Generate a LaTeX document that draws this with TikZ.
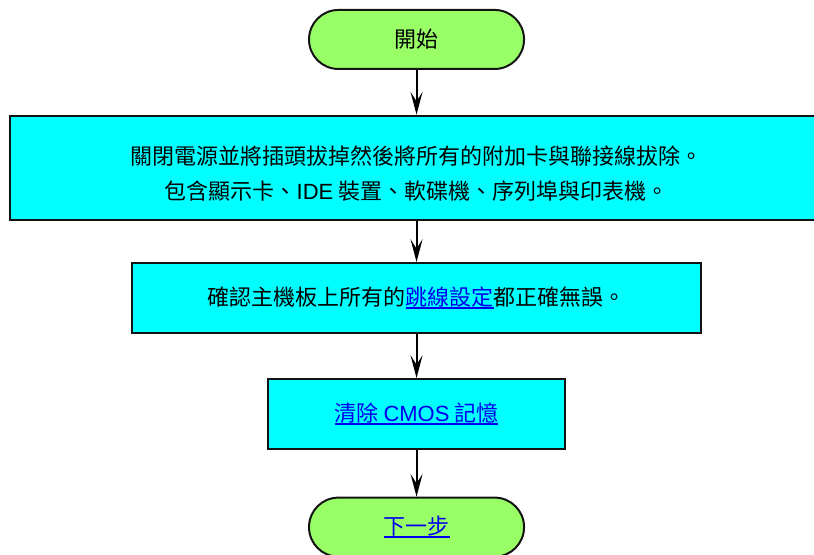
\documentclass[tikz,border=0pt]{standalone}
\usepackage{fontspec}
\setmainfont{Noto Sans CJK TC}
\newfontfamily\latinfont{Liberation Sans}
\usepackage{xcolor}
\usepackage{tikz}
\usetikzlibrary{arrows.meta, positioning}
\definecolor{termgreen}{RGB}{153, 255, 102}
\definecolor{stepcyan}{RGB}{0, 255, 255}
\definecolor{linkblue}{RGB}{0, 0, 238}
\definecolor{edgegray}{RGB}{20, 20, 20}
\newcommand{\lnk}[1]{{\color{linkblue}\setbox0\hbox{#1}\rlap{\rule[-3pt]{\wd0}{1.5pt}}\box0}}
\newcommand{\lat}[1]{{\latinfont #1}}

\begin{document}
\begin{tikzpicture}[
  node distance=34pt,
  term/.style={
    rectangle, rounded corners=22pt,
    minimum width=161.25pt, minimum height=44.25pt,
    fill=termgreen, draw=edgegray, line width=1.5pt,
    text centered, font=\fontsize{16.5}{20}\selectfont
  },
  stepbox/.style={
    rectangle, minimum height=52.5pt,
    fill=stepcyan, draw=edgegray, line width=1.5pt,
    align=center, font=\fontsize{16.5}{26.5}\selectfont
  },
  arrow/.style={-{Stealth[length=17pt, width=9pt, inset=7pt]}, line width=1.5pt, color=black}
]
  \useasboundingbox (0,0) rectangle (610.5pt,-416.25pt);
  \node[term] (start) at (312.4pt,-29.6pt) {開始};
  \node[stepbox, minimum width=610pt, minimum height=78pt, below=33.5pt of start] (off)
    {\rule{0pt}{23pt}關閉電源並將插頭拔掉然後將所有的附加卡與聯接線拔除。\\
     包含顯示卡、\lat{IDE} 裝置、軟碟機、序列埠與印表機。};
  \node[stepbox, minimum width=427pt, below=31pt of off] (jump)
    {確認主機板上所有的\lnk{跳線設定}都正確無誤。};
  \node[stepbox, minimum width=223pt, below=33pt of jump] (cmos)
    {\lnk{清除 \lat{CMOS} 記憶}};
  \node[term, below=35pt of cmos] (next) {\lnk{下一步}};

  \draw[arrow] (start)--(off);
  \draw[arrow] (off)--(jump);
  \draw[arrow] (jump)--(cmos);
  \draw[arrow] (cmos)--(next);
\end{tikzpicture}
\end{document}
